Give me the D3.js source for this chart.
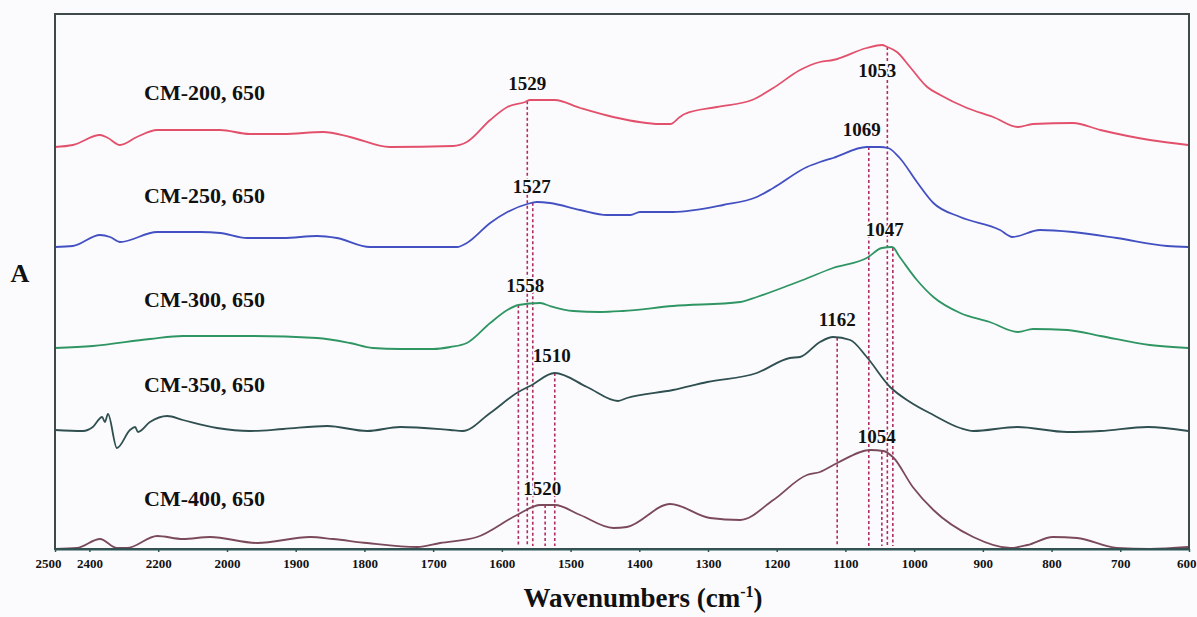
<!DOCTYPE html>
<html>
<head>
<meta charset="utf-8">
<style>
  body { margin: 0; background: #fbfbfd; }
  svg { display: block; }
</style>
</head>
<body>
<div id="chart"></div>
<script src="https://cdn.jsdelivr.net/npm/d3@7/dist/d3.min.js"></script>
<script>
// spectra: [wavenumber cm-1, absorbance (a.u., stacked)]
var seriesNames = ["CM-200, 650", "CM-250, 650", "CM-300, 650", "CM-350, 650", "CM-400, 650"];

var cm200 = [[2500, 80.4], [2448, 80.8], [2369, 82.8], [2346, 82.2], [2311, 80.8], [2262, 82.4],
    [2203, 83.8], [2020, 83.8], [1967, 83.0], [1918, 83.0], [1860, 83.4], [1821, 82.4], [1763, 80.4],
    [1671, 80.6], [1651, 81.4], [1617, 85.8], [1592, 88.4], [1566, 89.4], [1559, 89.8], [1523, 89.8],
    [1486, 88.2], [1438, 86.4], [1370, 85.0], [1355, 85.0], [1341, 86.4], [1334, 87.0], [1287, 88.4],
    [1236, 89.8], [1205, 92.2], [1166, 95.8], [1137, 97.4], [1118, 97.8], [1069, 100.2], [1047, 100.8],
    [1039, 100.4], [1025, 99.4], [1006, 96.4], [981, 92.4], [962, 90.8], [923, 88.2], [885, 86.4],
    [849, 84.4], [827, 85.0], [769, 85.2], [729, 83.8], [657, 81.8], [601, 80.8]];

var cm250 = [[2500, 60.4], [2448, 60.6], [2369, 62.8], [2340, 62.4], [2311, 61.4], [2203, 63.4],
    [2078, 63.4], [2020, 63.2], [1971, 62.2], [1918, 62.2], [1869, 62.6], [1840, 62.2], [1792, 60.4],
    [1665, 60.4], [1651, 61.2], [1617, 65.2], [1592, 67.4], [1563, 69.0], [1549, 69.4], [1530, 69.2],
    [1486, 67.8], [1447, 66.8], [1413, 66.8], [1399, 67.4], [1351, 67.4], [1278, 68.8], [1229, 70.4],
    [1205, 72.2], [1156, 76.4], [1137, 77.4], [1118, 78.2], [1069, 80.4], [1050, 80.4], [1038, 80.2],
    [1021, 78.2], [996, 73.4], [972, 69.2], [933, 66.4], [875, 63.8], [857, 62.4], [817, 63.8],
    [769, 63.4], [705, 62.2], [632, 60.6], [601, 60.4]];

var cm300 = [[2500, 40.2], [2390, 40.6], [2224, 42.0], [2128, 42.6], [1967, 42.6], [1869, 42.2],
    [1821, 41.2], [1788, 40.2], [1748, 40.0], [1700, 40.0], [1675, 40.4], [1651, 41.2], [1617, 45.2],
    [1592, 47.8], [1576, 48.8], [1544, 49.2], [1530, 48.6], [1496, 47.6], [1457, 47.4], [1424, 47.6],
    [1351, 48.6], [1253, 49.4], [1229, 50.4], [1181, 52.8], [1162, 53.8], [1118, 56.2], [1069, 58.2],
    [1047, 60.2], [1032, 60.4], [1021, 58.4], [996, 53.8], [972, 50.4], [933, 47.2], [890, 45.4],
    [849, 43.4], [827, 44.0], [777, 43.8], [729, 42.6], [657, 40.8], [601, 40.2]];

var cm350 = [[2500, 23.8], [2419, 23.6], [2390, 24.4], [2363, 26.4], [2355, 25.4], [2346, 27.0],
    [2320, 20.2], [2282, 23.8], [2267, 24.4], [2259, 23.4], [2224, 25.4], [2174, 26.6], [2128, 25.8],
    [2029, 24.2], [1967, 23.6], [1918, 24.0], [1854, 24.6], [1796, 23.6], [1748, 24.4], [1675, 23.8],
    [1657, 23.6], [1617, 27.2], [1576, 31.4], [1559, 32.6], [1523, 35.2], [1476, 32.4], [1431, 29.6],
    [1418, 30.2], [1351, 31.8], [1301, 33.4], [1229, 35.2], [1181, 38.2], [1166, 38.4], [1137, 41.4],
    [1118, 42.4], [1093, 41.8], [1069, 38.4], [1035, 32.4], [1006, 29.4], [972, 26.8], [933, 24.2],
    [914, 23.6], [850, 24.4], [777, 23.4], [729, 23.6], [660, 24.4], [601, 23.6]];

var cm400 = [[2500, 0.0], [2436, 0.2], [2369, 2.0], [2320, 0.2], [2291, 0.2], [2203, 2.6],
    [2128, 2.0], [2049, 2.4], [1956, 1.2], [1879, 2.4], [1846, 2.0], [1796, 1.2], [1723, 0.4],
    [1690, 1.2], [1636, 2.4], [1578, 6.8], [1544, 8.8], [1523, 8.8], [1486, 6.8], [1438, 4.2],
    [1418, 4.4], [1355, 9.0], [1297, 6.2], [1253, 5.8], [1205, 9.8], [1156, 14.8], [1137, 15.4],
    [1112, 17.2], [1064, 19.8], [1045, 19.6], [1031, 18.4], [1002, 12.4], [972, 7.8], [914, 2.4],
    [860, 0.2], [835, 0.8], [798, 2.4], [763, 2.2], [705, 0.2], [657, 0.0], [601, 0.4]];

var seriesData = [cm200, cm250, cm300, cm350, cm400];

// peak markers: printed label, axis position of the dotted line, spectrum it starts on
var peakLabels = ["1558", "1529", "1527", "1520", "1510", "1162", "1069", "1054", "1053", "1047"];
var peakPositions = [1576, 1563, 1555, 1537, 1523, 1112, 1066, 1047, 1039, 1031];
var peakSeries = [2, 0, 1, 4, 3, 3, 1, 4, 0, 2];

var tickValues = [2500, 2400, 2200, 2000, 1900, 1800, 1700, 1600, 1500, 1400, 1300, 1200, 1100,
    1000, 900, 800, 700, 600];

(function () {
    'use strict';

    var WIDTH = 1197;
    var HEIGHT = 617;
    var margin = {top: 14, right: 8, bottom: 68, left: 55};
    var FONT = "'Liberation Serif', 'Times New Roman', serif";

    var colors = ["#e2506c", "#4350c2", "#2f9563", "#2f4f50", "#7b4a5a"];
    var labelY = [100, 203, 307, 392, 506];
    // nudges so the peak numbers sit where the figure put them
    var peakNudge = [[7, -13], [0, -11], [-1, -10], [-3, -10], [-3, -11],
        [0, -12], [-7, -11], [-5, -8], [-10, 30], [-8, -12]];

    var svg = d3.select("#chart")
        .append("svg")
        .attr("width", WIDTH)
        .attr("height", HEIGHT)
        .style("background", "#fbfbfd");

    // the instrument axis is compressed above 2000 cm-1
    var x = d3.scaleLinear()
        .domain([2500, 2000, 600])
        .range([margin.left, margin.left + 172, WIDTH - margin.right]);

    var y = d3.scaleLinear()
        .domain([0, 107])
        .range([HEIGHT - margin.bottom, margin.top]);

    var line = d3.line()
        .x(function (d) { return x(d[0]); })
        .y(function (d) { return y(d[1]); })
        .curve(d3.curveMonotoneX);

    function valueAt(data, wn) {
        for (var i = 0; i < data.length - 1; i++) {
            var a = data[i], b = data[i + 1];
            if (wn <= a[0] && wn >= b[0]) {
                var t = (a[0] - wn) / (a[0] - b[0]);
                return a[1] + t * (b[1] - a[1]);
            }
        }
        return data[data.length - 1][1];
    }

    // dotted peak lines
    svg.append("g")
        .selectAll("line")
        .data(peakPositions)
        .enter()
        .append("line")
        .attr("x1", function (d) { return x(d); })
        .attr("x2", function (d) { return x(d); })
        .attr("y1", function (d, i) { return y(valueAt(seriesData[peakSeries[i]], d)); })
        .attr("y2", y(0) - 3)
        .attr("stroke", "#b02c62")
        .attr("stroke-width", 1.6)
        .attr("stroke-dasharray", "3,2.5");

    // spectra
    svg.append("g")
        .selectAll("path")
        .data(seriesData)
        .enter()
        .append("path")
        .attr("d", line)
        .attr("fill", "none")
        .attr("stroke", function (d, i) { return colors[i]; })
        .attr("stroke-width", 1.8)
        .attr("stroke-linejoin", "round");

    // frame
    svg.append("rect")
        .attr("x", margin.left)
        .attr("y", margin.top)
        .attr("width", WIDTH - margin.left - margin.right)
        .attr("height", HEIGHT - margin.top - margin.bottom)
        .attr("fill", "none")
        .attr("stroke", "#3e4a4a")
        .attr("stroke-width", 2);

    // bottom axis
    var axis = d3.axisBottom(x)
        .tickValues(tickValues)
        .tickSizeInner(3)
        .tickSizeOuter(0)
        .tickFormat(d3.format("d"));

    var gx = svg.append("g")
        .attr("transform", "translate(0," + (HEIGHT - margin.bottom) + ")")
        .call(axis);
    gx.select(".domain").attr("stroke", "#2f5656").attr("stroke-width", 2);
    gx.selectAll(".tick line").attr("stroke", "#2f5656").attr("stroke-width", 1.5);
    gx.selectAll(".tick text")
        .attr("y", 10)
        .attr("dx", function (d) { return d === 2500 ? -7 : 0; })
        .attr("text-anchor", function (d) { return d === 600 ? "end" : "middle"; })
        .attr("x", function (d) { return d === 600 ? 7 : 0; })
        .attr("fill", "#111")
        .style("font-family", FONT)
        .style("font-weight", "bold")
        .style("font-size", "13px");

    // series names
    svg.append("g")
        .selectAll("text")
        .data(seriesNames)
        .enter()
        .append("text")
        .text(function (d) { return d; })
        .attr("x", 144)
        .attr("y", function (d, i) { return labelY[i]; })
        .attr("fill", "#111")
        .style("font-family", FONT)
        .style("font-weight", "bold")
        .style("font-size", "22px");

    // peak numbers
    svg.append("g")
        .selectAll("text")
        .data(peakLabels)
        .enter()
        .append("text")
        .text(function (d) { return d; })
        .attr("text-anchor", "middle")
        .attr("x", function (d, i) { return x(peakPositions[i]) + peakNudge[i][0]; })
        .attr("y", function (d, i) {
            return y(valueAt(seriesData[peakSeries[i]], peakPositions[i])) + peakNudge[i][1];
        })
        .attr("fill", "#111")
        .attr("stroke", "#fbfbfd")
        .attr("stroke-width", 3)
        .attr("paint-order", "stroke")
        .style("font-family", FONT)
        .style("font-weight", "bold")
        .style("font-size", "19px");

    // axis titles
    svg.append("text")
        .text("A")
        .attr("x", 20)
        .attr("y", 282)
        .attr("text-anchor", "middle")
        .attr("fill", "#111")
        .style("font-family", FONT)
        .style("font-weight", "bold")
        .style("font-size", "26px");

    var title = svg.append("text")
        .attr("x", 643)
        .attr("y", 607)
        .attr("text-anchor", "middle")
        .attr("fill", "#111")
        .style("font-family", FONT)
        .style("font-weight", "bold")
        .style("font-size", "27px");
    title.append("tspan").text("Wavenumbers (cm");
    title.append("tspan").text("-1").attr("dy", -10).style("font-size", "16px");
    title.append("tspan").text(")").attr("dy", 10);
})();
</script>
</body>
</html>
